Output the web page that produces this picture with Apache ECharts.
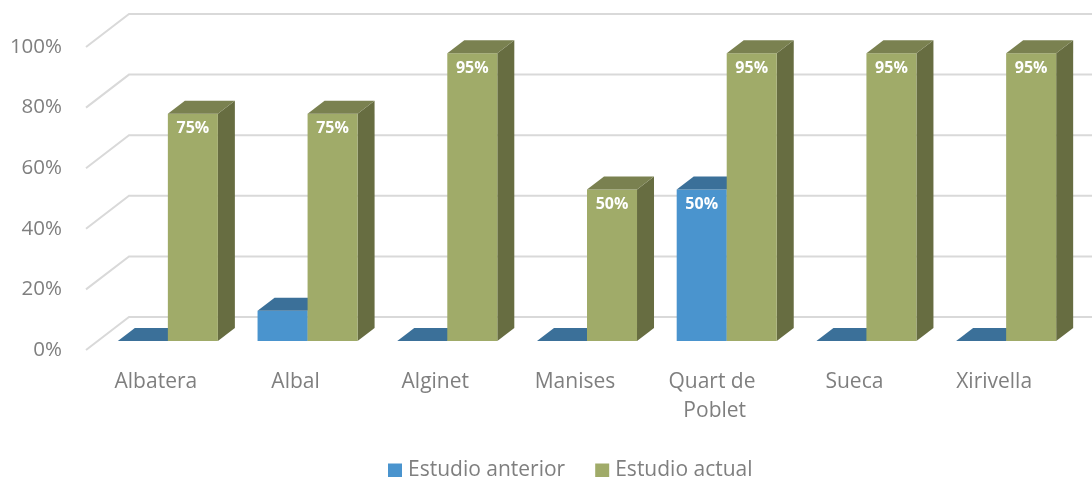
<!DOCTYPE html>
<html><head><meta charset="utf-8">
<script src="https://cdn.jsdelivr.net/npm/echarts@6/dist/echarts.min.js"></script>
<style>html,body{margin:0;padding:0;background:#fff}#c{width:1092px;height:477px}</style>
</head><body><div id="c"></div>
<script>
const categories = ['Albatera', 'Albal', 'Alginet', 'Manises', 'Quart de Poblet', 'Sueca', 'Xirivella'];
const seriesNames = ['Estudio anterior', 'Estudio actual'];
const anterior = [0, 0.10, 0, 0, 0.50, 0, 0];
const actual = [0.75, 0.75, 0.95, 0.50, 0.95, 0.95, 0.95];
const yTicks = [0, 0.2, 0.4, 0.6, 0.8, 1.0];

const FONT = '"Open Sans", "Noto Sans", sans-serif';
const WALL = [43, -33];     // back wall offset
const FRONT = [12, -9];     // bar front offset
const DEPTH = [17, -13];    // bar depth
const colors = {
  blue: { front: '#4A94CE', top: '#3B7099', side: '#336189' },
  green: { front: '#A0AB69', top: '#7A8150', side: '#676D41' }
};

function barRender(pal, idx) {
  return function (params, api) {
    const cat = api.value(0), val = api.value(1);
    const band = api.size([1, 0])[0];
    const w = band * 0.358;
    const c = api.coord([cat, 0]);
    const t = api.coord([cat, val]);
    const L = c[0] + FRONT[0] - (idx === 0 ? w : 0);
    const bot = c[1] + FRONT[1];
    const top = t[1] + FRONT[1];
    const dx = DEPTH[0], dy = DEPTH[1];
    const children = [];
    if (bot - top > 0.5) {
      children.push({ type: 'polygon', shape: { points: [[L + w, top], [L + w + dx, top + dy], [L + w + dx, bot + dy], [L + w, bot]] }, style: { fill: pal.side } });
      children.push({ type: 'rect', shape: { x: L, y: top, width: w, height: bot - top }, style: { fill: pal.front } });
    }
    children.push({ type: 'polygon', shape: { points: [[L, top], [L + w, top], [L + w + dx, top + dy], [L + dx, top + dy]] }, style: { fill: pal.top } });
    if (val > 0.15) {
      children.push({ type: 'text', style: { text: Math.round(val * 100) + '%', x: L + w / 2, y: top + 15, align: 'center', verticalAlign: 'middle', fill: '#fff', font: 'bold 16px ' + FONT } });
    }
    return { type: 'group', children };
  };
}

const chart = echarts.init(document.getElementById('c'), null, { renderer: 'canvas' });
chart.setOption({
  animation: false,
  grid: { left: 86, right: 28, top: 47, bottom: 127, containLabel: false },
  legend: {
    data: seriesNames, top: 460, left: 388, itemWidth: 14, itemHeight: 14, itemGap: 30, padding: 0,
    icon: 'rect', textStyle: { color: '#7F7F7F', fontSize: 21, fontFamily: FONT, padding: [0, 0, 0, 1] }
  },
  xAxis: {
    type: 'category', data: categories,
    axisLine: { show: false }, axisTick: { show: false }, splitLine: { show: false },
    axisLabel: { interval: 0, color: '#7F7F7F', fontSize: 21, fontFamily: FONT, margin: 18, lineHeight: 29, width: 125, overflow: 'break' }
  },
  yAxis: {
    type: 'value', min: 0, max: 1, interval: 0.2,
    axisLine: { show: false }, axisTick: { show: false }, splitLine: { show: false },
    axisLabel: { color: '#7F7F7F', fontSize: 20.5, fontFamily: FONT, margin: 24, formatter: v => Math.round(v * 100) + '%' }
  },
  series: [
    {
      type: 'custom', name: '_grid', silent: true, z: 1,
      data: yTicks.map(v => [0, v]),
      renderItem: function (params, api) {
        const p = api.coord([0, api.value(1)]);
        const x0 = params.coordSys.x;
        const y = p[1];
        return { type: 'polyline', shape: { points: [[x0, y], [x0 + WALL[0], y + WALL[1]], [1100, y + WALL[1]]] }, style: { stroke: '#D9D9D9', lineWidth: 2, fill: null } };
      }
    },
    {
      type: 'custom', name: seriesNames[0], z: 2, itemStyle: { color: colors.blue.front },
      data: anterior.map((v, i) => [i, v]),
      renderItem: barRender(colors.blue, 0)
    },
    {
      type: 'custom', name: seriesNames[1], z: 3, itemStyle: { color: colors.green.front },
      data: actual.map((v, i) => [i, v]),
      renderItem: barRender(colors.green, 1)
    }
  ]
});
</script></body></html>
